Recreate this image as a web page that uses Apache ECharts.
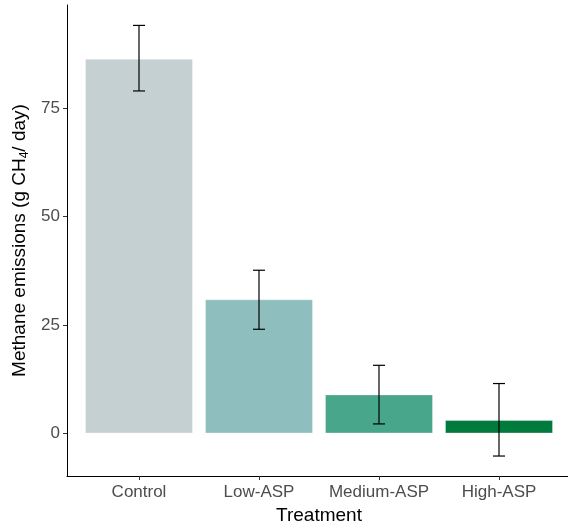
<!DOCTYPE html>
<html><head><meta charset="utf-8">
<script src="https://cdn.jsdelivr.net/npm/echarts@6/dist/echarts.min.js"></script>
<style>html,body{margin:0;padding:0;background:#fff}#c{width:568px;height:527px}</style>
</head><body><div id="c"></div>
<script>
var categories = ['Control', 'Low-ASP', 'Medium-ASP', 'High-ASP'];
var means = [86.3, 30.9, 9.0, 3.1];
var errLow = [78.9, 24.0, 2.2, -5.2];
var errHigh = [94.0, 37.6, 15.7, 11.5];
var barColors = ['#C5D0D2', '#8FBEBE', '#48A68A', '#007A3D'];
var yTicks = [0, 25, 50, 75];

var chart = echarts.init(document.getElementById('c'));
var positions = categories.map(function (c, i) { return i + 1; });
var barData = means.map(function (v, i) {
  return { value: [positions[i], v], itemStyle: { color: barColors[i] } };
});
var errData = means.map(function (v, i) { return [positions[i], errLow[i], errHigh[i]]; });

chart.setOption({
  animation: false,
  grid: { left: 67, right: -3, top: 5, bottom: 51, containLabel: false, outerBoundsMode: 'none' },
  xAxis: {
    type: 'value', min: 0.4, max: 4.6,
    name: 'Treatment', nameLocation: 'middle', nameGap: 26,
    nameTextStyle: { color: '#000', fontSize: 19, fontFamily: 'Liberation Sans' },
    axisLine: { show: true, onZero: false, lineStyle: { color: '#000', width: 1 } },
    axisTick: { show: true, length: 4, customValues: positions, lineStyle: { color: '#333' } },
    axisLabel: { customValues: positions, margin: 8, color: '#4D4D4D', fontSize: 17, fontFamily: 'Liberation Sans',
      formatter: function (v) { return categories[Math.round(v) - 1] || ''; } },
    splitLine: { show: false }
  },
  yAxis: {
    type: 'value', min: -9.8, max: 98.7,
    name: 'Methane emissions (g CH{sub|4}/ day)', nameLocation: 'middle', nameGap: 30, nameRotate: 90,
    nameTextStyle: { color: '#000', fontSize: 19, fontFamily: 'Liberation Sans',
      rich: { sub: { fontSize: 12, fontFamily: 'Liberation Sans', color: '#000', padding: [8, 0, 0, 0] } } },
    axisLine: { show: true, onZero: false, lineStyle: { color: '#000', width: 1 } },
    axisTick: { show: true, length: 4, customValues: yTicks, lineStyle: { color: '#333' } },
    axisLabel: { customValues: yTicks, margin: 7, color: '#4D4D4D', fontSize: 17, fontFamily: 'Liberation Sans' },
    splitLine: { show: false }
  },
  series: [
    { type: 'bar', data: barData, barWidth: 108,
      itemStyle: { borderColor: 'rgba(255,255,255,0.3)', borderWidth: 1 } },
    { type: 'custom', data: errData, z: 10,
      renderItem: function (params, api) {
        var x = api.value(0);
        var lo = api.coord([x, api.value(1)]);
        var hi = api.coord([x, api.value(2)]);
        var cap = 6;
        var st = { stroke: '#000', lineWidth: 1.2 };
        return { type: 'group', children: [
          { type: 'line', shape: { x1: lo[0], y1: lo[1], x2: hi[0], y2: hi[1] }, style: st },
          { type: 'line', shape: { x1: lo[0] - cap, y1: lo[1], x2: lo[0] + cap, y2: lo[1] }, style: st },
          { type: 'line', shape: { x1: hi[0] - cap, y1: hi[1], x2: hi[0] + cap, y2: hi[1] }, style: st }
        ] };
      }
    }
  ]
});
</script></body></html>
